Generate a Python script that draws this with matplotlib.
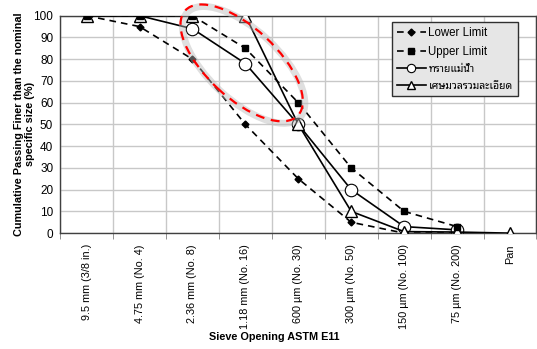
import numpy as np
import matplotlib
matplotlib.use('Agg')
import matplotlib.pyplot as plt
import matplotlib.transforms as mtransforms
from matplotlib.patches import Ellipse

# --- data ---
sieves = ['9.5 mm (3/8 in.)', '4.75 mm (No. 4)', '2.36 mm (No. 8)', '1.18 mm (No. 16)',
          '600 µm (No. 30)', '300 µm (No. 50)', '150 µm (No. 100)', '75 µm (No. 200)', 'Pan']
lower_limit = [100, 95, 80, 50, 25, 5, 0, 0, np.nan]
upper_limit = [100, 100, 100, 85, 60, 30, 10, 3, np.nan]
river_sand = [100, 100, 94, 78, 50, 20, 3, 1.5, np.nan]
fine_agg = [100, 100, 100, 100, 50, 10, 0.7, 0.5, 0]

plt.rcParams['font.family'] = ['Liberation Sans', 'Noto Sans Thai Looped', 'DejaVu Sans']

fig = plt.figure(figsize=(5.37, 3.49), dpi=100)
ax = fig.add_axes([0.112, 0.332, 0.887, 0.623])

x = np.arange(len(sieves))
ax.plot(x, lower_limit, color='black', ls=(0, (4, 3)), lw=1.2, marker='D', ms=3.5,
        mfc='black', mec='black', label='Lower Limit', zorder=4)
ax.plot(x, upper_limit, color='black', ls=(0, (4, 3)), lw=1.2, marker='s', ms=5,
        mfc='black', mec='black', label='Upper Limit', zorder=5)
ax.plot(x, river_sand, color='black', lw=1.2, marker='o', ms=9, mfc='white',
        mec='black', mew=0.8, markevery=list(range(2, 8)), label='ทรายแม่น้ำ', zorder=3)
ax.plot(x, fine_agg, color='black', lw=1.2, marker='^', ms=9, mfc='white',
        mec='black', mew=1.0, label='เศษมวลรวมละเอียด', zorder=4)

ax.set_xlim(-0.5, len(sieves) - 0.5)
ax.set_ylim(0, 100)
ax.set_yticks(np.arange(0, 101, 10))
ax.set_xticks(x)
ax.set_xticklabels(sieves, rotation=90, fontsize=7.8)
ax.set_xticks(np.arange(-0.5, len(sieves), 1), minor=True)
ax.tick_params(axis='x', which='major', length=0, pad=8)
ax.tick_params(axis='x', which='minor', length=4, color='#808080')
ax.tick_params(axis='y', length=0, labelsize=8.5, pad=5)
ax.grid(True, axis='y', color='#c8c8c8', lw=1)
ax.grid(True, axis='x', which='minor', color='#c8c8c8', lw=1)
ax.set_axisbelow(True)
for s in ax.spines.values():
    s.set_color('#404040')
    s.set_linewidth(1)

ax.set_ylabel('Cumulative Passing Finer than the nominal\nspecific size (%)',
              fontsize=7.8, fontweight='bold')
ax.yaxis.set_label_coords(-0.052, 0.5)
ax.set_xlabel('Sieve Opening ASTM E11', fontsize=7.8, fontweight='bold', va='center')
ax.xaxis.set_label_coords(0.45, -0.48)

leg = ax.legend(loc='upper right', bbox_to_anchor=(0.961, 0.97), fontsize=8.3,
                frameon=True, fancybox=False, handlelength=2.5, borderpad=0.45,
                labelspacing=0.55, handletextpad=0.25, borderaxespad=0)
leg.get_frame().set_facecolor('#e6e6e6')
leg.get_frame().set_edgecolor('#303030')
leg.get_frame().set_alpha(1)
for h in leg.legend_handles[2:]:
    h.set_markersize(6)
for t in leg.get_texts()[2:]:
    t.set_fontsize(7.5)

# highlight ellipse (drawn in pixel units around a data point)
cx, cy = 2.93, 78.3
for dx, col, lw, al in [(2, '#b8b8b8', 5, 0.45), (0, 'red', 1.6, 1)]:
    tr = mtransforms.Affine2D().translate(dx, -dx) + mtransforms.ScaledTranslation(cx, cy, ax.transData)
    e = Ellipse((0, 0), 154, 70, angle=-43, fill=False, edgecolor=col, lw=lw,
                ls=(0, (4, 3)) if dx == 0 else '-', alpha=al, transform=tr, zorder=6, clip_on=False)
    ax.add_patch(e)

fig.savefig('out.png', dpi=100)
